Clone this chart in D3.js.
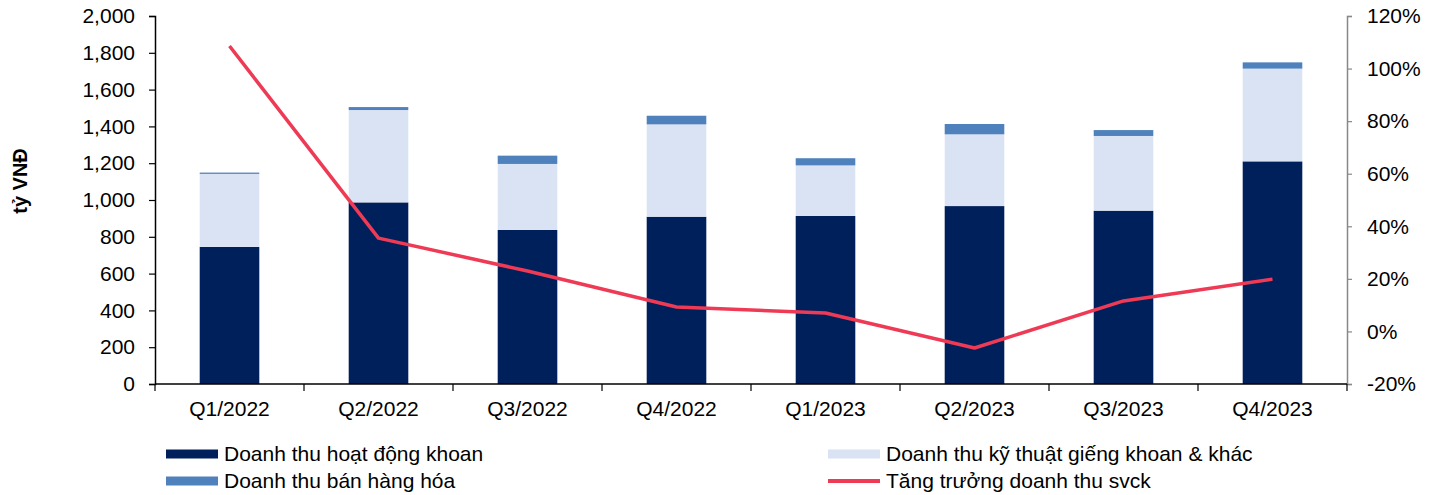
<!DOCTYPE html>
<html>
<head>
<meta charset="utf-8">
<script src="https://cdn.jsdelivr.net/npm/d3@7"></script>
<style>
  html, body { margin: 0; padding: 0; background: #fff; }
  svg { display: block; font-family: "Liberation Sans", Arial, sans-serif; }
</style>
</head>
<body>
<svg id="chart" width="1436" height="495"></svg>
<script>
const categories = ["Q1/2022", "Q2/2022", "Q3/2022", "Q4/2022", "Q1/2023", "Q2/2023", "Q3/2023", "Q4/2023"];
const hoatDongKhoan = [745, 987, 837, 909, 913, 967, 942, 1210];
const kyThuatKhac = [397, 502, 359, 502, 275, 390, 406, 504];
const banHangHoa = [7, 16, 45, 47, 39, 56, 32, 34];
const tangTruong = [108.6, 35.5, 23.0, 9.3, 7.0, -6.3, 11.6, 19.9];
const leftTicks = [0, 200, 400, 600, 800, 1000, 1200, 1400, 1600, 1800, 2000];
const rightTicks = [-20, 0, 20, 40, 60, 80, 100, 120];
const seriesNames = ["Doanh thu hoạt động khoan", "Doanh thu kỹ thuật giếng khoan & khác", "Doanh thu bán hàng hóa", "Tăng trưởng doanh thu svck"];
const colors = ["#00205b", "#dae3f3", "#4f81bd", "#ef3a55"];

const svg = d3.select("#chart");
const L = 155, R = 1347, T = 16, B = 384;
const FS = 21;

const x = d3.scaleBand().domain(categories).range([L, R]).paddingInner(0.6).paddingOuter(0.3);
const y = d3.scaleLinear().domain([0, 2000]).range([B, T]);
const y2 = d3.scaleLinear().domain([-20, 120]).range([B, T]);

const rows = categories.map((c, i) => ({ cat: c, a: hoatDongKhoan[i], b: kyThuatKhac[i], c2: banHangHoa[i] }));
const stack = d3.stack().keys(["a", "b", "c2"])(rows);

svg.append("g").selectAll("g").data(stack).join("g")
  .attr("fill", (d, i) => colors[i])
  .selectAll("rect").data(d => d).join("rect")
  .attr("x", d => x(d.data.cat))
  .attr("width", x.bandwidth())
  .attr("y", d => y(d[1]))
  .attr("height", d => y(d[0]) - y(d[1]));

// Left axis
const gl = svg.append("g").attr("transform", `translate(${L},0)`)
  .call(d3.axisLeft(y).tickValues(leftTicks).tickFormat(d3.format(",")).tickSizeOuter(0).tickSize(6).tickPadding(14));
gl.select(".domain").attr("stroke", "#000").attr("stroke-width", 1.5);
gl.selectAll(".tick line").attr("stroke", "#000").attr("stroke-width", 1.2);
gl.selectAll("text").attr("font-size", FS).attr("fill", "#000").attr("font-family", "Liberation Sans, Arial, sans-serif");

// Right axis
const gr = svg.append("g").attr("transform", `translate(${R},0)`)
  .call(d3.axisRight(y2).tickValues(rightTicks).tickFormat(d => d + "%").tickSizeOuter(0).tickSize(5).tickPadding(15));
gr.select(".domain").attr("stroke", "#888").attr("stroke-width", 1.5);
gr.selectAll(".tick line").attr("stroke", "#888").attr("stroke-width", 1.2);
gr.selectAll("text").attr("font-size", FS).attr("fill", "#000").attr("font-family", "Liberation Sans, Arial, sans-serif");

// Bottom axis
const gb = svg.append("g").attr("transform", `translate(0,${B})`)
  .call(d3.axisBottom(x).tickSize(0).tickPadding(17));
gb.select(".domain").remove();
gb.selectAll("text").attr("font-size", FS).attr("fill", "#000").attr("font-family", "Liberation Sans, Arial, sans-serif");
svg.append("line").attr("x1", L).attr("x2", R).attr("y1", B).attr("y2", B).attr("stroke", "#000").attr("stroke-width", 1.5);
const boundaries = categories.map((c, i) => L + x.step() * i).concat([R]);
svg.append("g").selectAll("line").data(boundaries).join("line")
  .attr("x1", d => d).attr("x2", d => d).attr("y1", B).attr("y2", B + 7)
  .attr("stroke", "#000").attr("stroke-width", 1.2);

// Growth line
const line = d3.line().x((d, i) => x(categories[i]) + x.bandwidth() / 2).y(d => y2(d));
svg.append("path").datum(tangTruong).attr("d", line)
  .attr("fill", "none").attr("stroke", colors[3]).attr("stroke-width", 3.5).attr("stroke-linejoin", "round");

// Y axis title
svg.append("text").attr("transform", "translate(27,181) rotate(-90)")
  .attr("text-anchor", "middle").attr("font-size", 20).attr("font-weight", "bold").text("tỷ VNĐ");

// Legend
const legendItems = [
  { name: seriesNames[0], color: colors[0], x: 166, y: 454, type: "rect" },
  { name: seriesNames[1], color: colors[1], x: 828, y: 454, type: "rect" },
  { name: seriesNames[2], color: colors[2], x: 166, y: 481, type: "rect" },
  { name: seriesNames[3], color: colors[3], x: 828, y: 481, type: "line" }
];
const lg = svg.append("g").selectAll("g").data(legendItems).join("g")
  .attr("transform", d => `translate(${d.x},${d.y})`);
lg.filter(d => d.type === "rect").append("rect")
  .attr("x", 0).attr("y", -4.5).attr("width", 52).attr("height", 9).attr("fill", d => d.color);
lg.filter(d => d.type === "line").append("line")
  .attr("x1", 0).attr("x2", 52).attr("y1", 0).attr("y2", 0).attr("stroke", d => d.color).attr("stroke-width", 4);
lg.append("text").attr("x", 58).attr("y", 0).attr("dy", "0.35em").attr("font-size", FS).text(d => d.name);
</script>
</body>
</html>
